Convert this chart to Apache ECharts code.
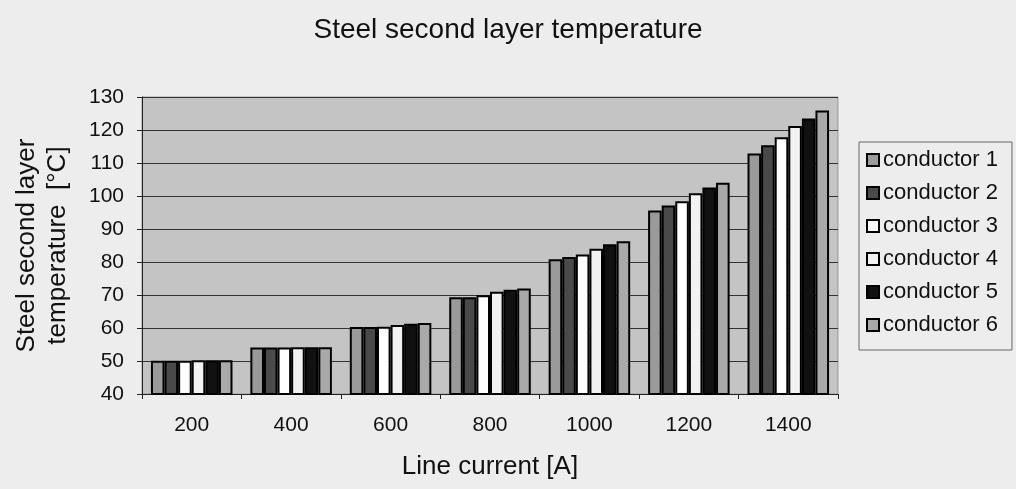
<!DOCTYPE html>
<html>
<head>
<meta charset="utf-8">
<script src="https://cdn.jsdelivr.net/npm/echarts@6/dist/echarts.min.js"></script>
<style>
html,body{margin:0;padding:0;background:#ededed;}
#c{width:1016px;height:489px;}
</style>
</head>
<body>
<div id="c"></div>
<script>
const categories = ['200','400','600','800','1000','1200','1400'];
const seriesNames = ['conductor 1','conductor 2','conductor 3','conductor 4','conductor 5','conductor 6'];
const conductor1 = [50.1, 54.1, 60.3, 69.3, 80.8, 95.6, 112.9];
const conductor2 = [50.1, 54.1, 60.3, 69.3, 81.5, 97.1, 115.4];
const conductor3 = [50.1, 54.1, 60.4, 69.9, 82.3, 98.4, 117.8];
const conductor4 = [50.2, 54.2, 60.9, 71.0, 84.0, 100.8, 121.2];
const conductor5 = [50.2, 54.2, 61.3, 71.6, 85.4, 102.6, 123.5];
const conductor6 = [50.2, 54.2, 61.5, 72.0, 86.3, 104.0, 125.9];
const seriesValues = [conductor1, conductor2, conductor3, conductor4, conductor5, conductor6];
const colors = ['#9a9a9a','#4a4a4a','#ffffff','#f2f2f2','#111111','#a9a9a9'];

const chart = echarts.init(document.getElementById('c'), null, {renderer:'canvas'});
const font = 'Liberation Sans, Arial, sans-serif';
chart.setOption({
  backgroundColor: '#ededed',
  animation: false,
  title: {
    text: 'Steel second layer temperature',
    left: 503, top: 11, textAlign: 'center',
    textStyle: {fontFamily: font, fontSize: 28, fontWeight: 'normal', color: '#111'}
  },
  legend: {
    orient: 'vertical',
    left: 859, top: 142,
    width: 154,
    padding: [7, 14, 14, 7],
    itemGap: 11,
    itemWidth: 12, itemHeight: 12,
    borderColor: '#666', borderWidth: 1,
    backgroundColor: '#ededed',
    icon: 'rect',
    textStyle: {fontFamily: font, fontSize: 22, color: '#111', padding: [0,0,0,-1], lineHeight: 22},
    data: seriesNames.map((n, i) => ({name: n, itemStyle: {color: colors[i], borderColor: '#000', borderWidth: 2}}))
  },
  grid: {
    left: 142, right: 178, top: 97, bottom: 95,
    show: true, backgroundColor: '#c4c4c4', borderColor: '#9a9a9a', borderWidth: 1
  },
  xAxis: {
    type: 'category',
    data: categories,
    name: 'Line current [A]',
    nameLocation: 'middle',
    nameGap: 60,
    nameTextStyle: {fontFamily: font, fontSize: 26, color: '#111'},
    axisLine: {show: true, lineStyle: {color: '#222', width: 1}},
    axisTick: {show: true, length: 5, lineStyle: {color: '#222'}},
    axisLabel: {fontFamily: font, fontSize: 21, color: '#111', margin: 21}
  },
  yAxis: {
    type: 'value',
    min: 40, max: 130, interval: 10,
    name: 'Steel second layer\ntemperature  [°C]',
    nameLocation: 'middle',
    nameGap: 69,
    nameRotate: 90,
    nameTextStyle: {fontFamily: font, fontSize: 26, color: '#111', lineHeight: 31},
    axisLine: {show: true, lineStyle: {color: '#222', width: 1}},
    axisTick: {show: true, length: 5, lineStyle: {color: '#222'}},
    axisLabel: {fontFamily: font, fontSize: 21, color: '#111', margin: 18},
    splitLine: {show: true, lineStyle: {color: '#333', width: 1}}
  },
  series: seriesNames.map((n, i) => ({
    name: n,
    type: 'bar',
    data: seriesValues[i],
    barGap: '0%',
    barCategoryGap: '18%',
    itemStyle: {color: colors[i], borderColor: '#000', borderWidth: 2}
  }))
});
</script>
</body>
</html>
